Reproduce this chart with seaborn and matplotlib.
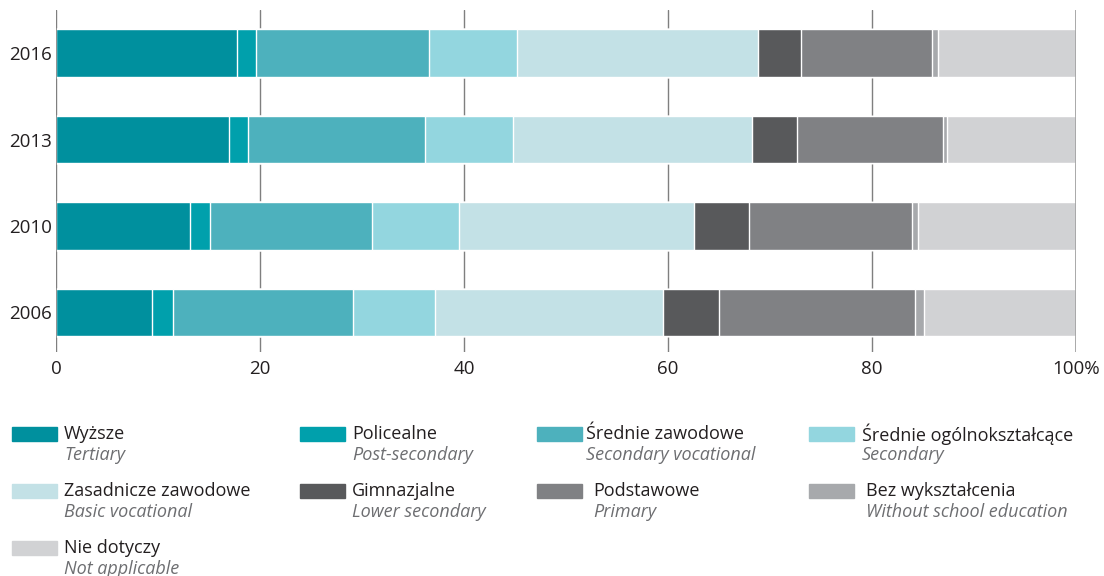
import numpy as np
import pandas as pd
import matplotlib.pyplot as plt
import seaborn as sns
from matplotlib.patches import Rectangle

# dane: udział (%) wg poziomu wykształcenia
years = ['2016', '2013', '2010', '2006']
levels_pl = ['Wyższe', 'Policealne', 'Średnie zawodowe', 'Średnie ogólnokształcące',
             'Zasadnicze zawodowe', 'Gimnazjalne', 'Podstawowe', 'Bez wykształcenia',
             'Nie dotyczy']
levels_en = ['Tertiary', 'Post-secondary', 'Secondary vocational', 'Secondary',
             'Basic vocational', 'Lower secondary', 'Primary', 'Without school education',
             'Not applicable']

wyzsze = [17.7, 17.0, 13.1, 9.4]
policealne = [1.9, 1.8, 2.0, 2.1]
srednie_zaw = [17.0, 17.4, 15.9, 17.6]
srednie_ogol = [8.6, 8.6, 8.5, 8.1]
zasadnicze = [23.6, 23.4, 23.0, 22.3]
gimnazjalne = [4.2, 4.4, 5.4, 5.5]
podstawowe = [12.9, 14.4, 16.0, 19.2]
bez_wyksz = [0.6, 0.4, 0.6, 0.9]
nie_dotyczy = [13.5, 12.6, 15.5, 14.9]

colors = ['#00909e', '#00a0ac', '#4db1bd', '#93d6df', '#c3e1e6',
          '#58595b', '#808184', '#a7a9ac', '#d1d2d4']

values = [wyzsze, policealne, srednie_zaw, srednie_ogol, zasadnicze,
          gimnazjalne, podstawowe, bez_wyksz, nie_dotyczy]

# tabela w formacie długim + sumy skumulowane
rows = []
for lvl, vals in zip(levels_pl, values):
    for y, v in zip(years, vals):
        rows.append({'year': y, 'level': lvl, 'value': v})
df = pd.DataFrame(rows)
df['level'] = pd.Categorical(df['level'], categories=levels_pl, ordered=True)
df = df.sort_values(['year', 'level'])
df['cum'] = df.groupby('year')['value'].cumsum()

sns.set_style('white')
plt.rcParams['font.family'] = ['Open Sans', 'DejaVu Sans']

fig = plt.figure(figsize=(11.04, 5.76), dpi=100)
ax = fig.add_axes([56 / 1104, 1 - 352 / 576, 1020 / 1104, 342 / 576])

# słupki skumulowane rysowane od najdłuższego
for lvl, col in reversed(list(zip(levels_pl, colors))):
    sub = df[df['level'] == lvl]
    sns.barplot(data=sub, x='cum', y='year', order=years, orient='h',
                color=col, width=0.55, errorbar=None, saturation=1,
                edgecolor='white', linewidth=1.0, ax=ax)

ax.set_xlim(0, 100)
ax.set_ylim(3.46, -0.5)
ax.set_xticks([0, 20, 40, 60, 80, 100])
ax.set_xticklabels(['0', '20', '40', '60', '80', '100%'])
ax.set_xlabel('')
ax.set_ylabel('')
ax.grid(axis='x', color='#7f7f7f', linewidth=1.0)
ax.set_axisbelow(True)
ax.axvline(0, color='#7f7f7f', linewidth=1.2, zorder=5)
ax.axvline(100, color='#a0a0a0', linewidth=1.2, zorder=5)
for s in ax.spines.values():
    s.set_visible(False)
ax.tick_params(axis='both', length=0, labelsize=13.5, colors='#231f20')
ax.tick_params(axis='x', pad=6)
ax.tick_params(axis='y', pad=3)

# legenda rysowana ręcznie (dwie linie opisu)
patch_x = [12, 300, 537, 809]
text_x = [64, 352, 586, 862]
text_dx = [0, 0, 0, 0, 0, 0, 7, 4, 0]
row_y = [434, 491, 548]
for i, (pl, en, col) in enumerate(zip(levels_pl, levels_en, colors)):
    r, c = divmod(i, 4)
    py = row_y[r]
    fig.patches.append(Rectangle((patch_x[c] / 1104, 1 - (py + 7) / 576), 45 / 1104, 14 / 576,
                                 transform=fig.transFigure, color=col, zorder=3))
    tx = (text_x[c] + text_dx[i]) / 1104
    fig.text(tx, 1 - py / 576, pl, fontsize=13, color='#231f20',
             va='center', ha='left')
    fig.text(tx, 1 - (py + 21) / 576, en, fontsize=13, color='#6d6e71',
             style='italic', va='center', ha='left')

plt.savefig('out.png', dpi=100)
